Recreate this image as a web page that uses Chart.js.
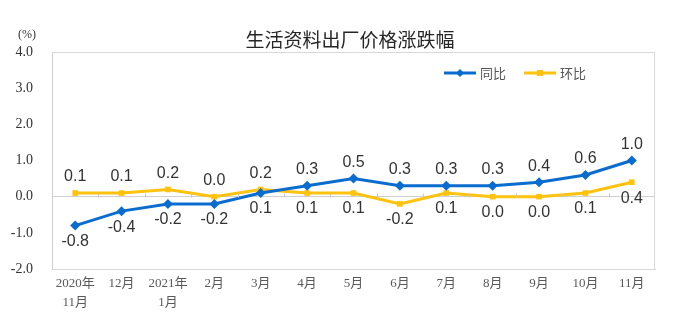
<!DOCTYPE html>
<html>
<head>
<meta charset="utf-8">
<script src="https://cdn.jsdelivr.net/npm/chart.js@4/dist/chart.umd.min.js"></script>
<style>
  html, body { margin: 0; padding: 0; background: #fff; }
  #wrap { width: 680px; height: 327px; }
</style>
</head>
<body>
<div id="wrap"><canvas id="priceChart"></canvas></div>
<script>
// 月份标签（多行）
const months = [
    ['2020年', '11月'], '12月', ['2021年', '1月'], '2月', '3月', '4月',
    '5月', '6月', '7月', '8月', '9月', '10月', '11月'
];
// 同比 / 环比 (%)
const yoyValues = [-0.8, -0.4, -0.2, -0.2, 0.1, 0.3, 0.5, 0.3, 0.3, 0.3, 0.4, 0.6, 1.0];
const momValues = [0.1, 0.1, 0.2, 0.0, 0.2, 0.1, 0.1, -0.2, 0.1, 0.0, 0.0, 0.1, 0.4];
const yTicks = [-2, -1, 0, 1, 2, 3, 4];

const chartTitle = '生活资料出厂价格涨跌幅';
const BLUE = '#0b6cd0';
const GOLD = '#ffc20e';
const CJK = '"Noto Sans CJK SC", sans-serif';
const SERIF = '"Liberation Serif", "Noto Sans CJK SC", serif';

// title, unit, legend, frame and the value labels
const decorPlugin = {
    id: 'decor',
    afterDraw(chart) {
        const { ctx, chartArea: area, scales } = chart;
        ctx.save();

        // frame on top / right
        ctx.strokeStyle = '#d9d9d9';
        ctx.lineWidth = 1;
        ctx.beginPath();
        ctx.moveTo(area.left, area.top + 0.5);
        ctx.lineTo(area.right - 0.5, area.top + 0.5);
        ctx.lineTo(area.right - 0.5, area.bottom);
        ctx.stroke();

        // small ticks sitting on the zero line
        const y0 = Math.round(scales.y.getPixelForValue(0)) + 0.5;
        const step = scales.x.getPixelForValue(1) - scales.x.getPixelForValue(0);
        ctx.strokeStyle = '#c8c8c8';
        ctx.beginPath();
        for (let i = 1; i < months.length; i++) {
            const x = Math.round(scales.x.getPixelForValue(i) - step / 2) + 0.5;
            ctx.moveTo(x, y0);
            ctx.lineTo(x, y0 - 4);
        }
        ctx.stroke();

        // title
        ctx.fillStyle = '#262626';
        ctx.font = '19px ' + CJK;
        ctx.textAlign = 'center';
        ctx.textBaseline = 'middle';
        ctx.fillText(chartTitle, 350, 40);

        // unit
        ctx.font = '12px ' + SERIF;
        ctx.fillStyle = '#333';
        ctx.fillText('(%)', 27, 35);

        // legend
        const legendItems = chart.data.datasets.map((ds, i) => ({ label: ds.label, color: ds.borderColor, style: ds.pointStyle, x: [444, 524][i] }));
        legendItems.forEach(item => {
            const ly = 73;
            ctx.strokeStyle = item.color;
            ctx.lineWidth = 3;
            ctx.beginPath();
            ctx.moveTo(item.x, ly);
            ctx.lineTo(item.x + 32, ly);
            ctx.stroke();
            ctx.fillStyle = item.color;
            ctx.beginPath();
            if (item.style === 'rectRot') {
                ctx.moveTo(item.x + 16, ly - 4);
                ctx.lineTo(item.x + 20, ly);
                ctx.lineTo(item.x + 16, ly + 4);
                ctx.lineTo(item.x + 12, ly);
                ctx.closePath();
            } else {
                ctx.rect(item.x + 13, ly - 3, 6, 6);
            }
            ctx.fill();
            ctx.fillStyle = '#555';
            ctx.font = '13px ' + CJK;
            ctx.textAlign = 'left';
            ctx.fillText(item.label, item.x + 36, ly);
        });

        // value labels: the higher series above, the lower one below
        ctx.font = '16px "Liberation Sans", Arial, sans-serif';
        ctx.fillStyle = '#333';
        ctx.textAlign = 'center';
        ctx.textBaseline = 'middle';
        const yoyMeta = chart.getDatasetMeta(0);
        const momMeta = chart.getDatasetMeta(1);
        months.forEach((m, i) => {
            const yoyUp = yoyValues[i] > momValues[i];
            const p1 = yoyMeta.data[i];
            const p2 = momMeta.data[i];
            ctx.fillText(yoyValues[i].toFixed(1), p1.x, p1.y + (yoyUp ? -16 : 16));
            ctx.fillText(momValues[i].toFixed(1), p2.x, p2.y + (yoyUp ? 16 : -16));
        });

        ctx.restore();
    }
};

new Chart(document.getElementById('priceChart'), {
    type: 'line',
    data: {
        labels: months,
        datasets: [
            {
                label: '同比',
                data: yoyValues,
                borderColor: BLUE,
                backgroundColor: BLUE,
                borderWidth: 3,
                pointStyle: 'rectRot',
                pointRadius: 5,
                pointBorderWidth: 0,
                tension: 0
            },
            {
                label: '环比',
                data: momValues,
                borderColor: GOLD,
                backgroundColor: GOLD,
                borderWidth: 3,
                pointStyle: 'rect',
                pointRadius: 4,
                pointBorderWidth: 0,
                tension: 0
            }
        ]
    },
    options: {
        responsive: true,
        maintainAspectRatio: false,
        animation: false,
        layout: { padding: { left: 0, right: 25, top: 52, bottom: 0 } },
        plugins: {
            legend: { display: false },
            title: { display: false },
            tooltip: { enabled: false }
        },
        scales: {
            x: {
                offset: true,
                grid: { display: false },
                border: { display: true, color: '#d9d9d9', width: 1 },
                ticks: {
                    color: '#595959',
                    font: { family: SERIF, size: 13, lineHeight: 1.45 },
                    padding: -3,
                    maxRotation: 0,
                    autoSkip: false
                },
                afterFit(scale) { scale.height = 58; }
            },
            y: {
                min: -2,
                max: 4,
                afterBuildTicks(scale) { scale.ticks = yTicks.map(v => ({ value: v })); },
                grid: {
                    drawTicks: false,
                    color: ctx => (ctx.tick && ctx.tick.value === 0 ? '#d0d0d0' : 'rgba(0,0,0,0)')
                },
                border: { display: true, color: '#d0d0d0', width: 1 },
                ticks: {
                    color: '#333',
                    font: { family: SERIF, size: 14 },
                    padding: 19,
                    callback: v => v.toFixed(1)
                },
                afterFit(scale) { scale.width = 52; }
            }
        }
    },
    plugins: [decorPlugin]
});
</script>
</body>
</html>
